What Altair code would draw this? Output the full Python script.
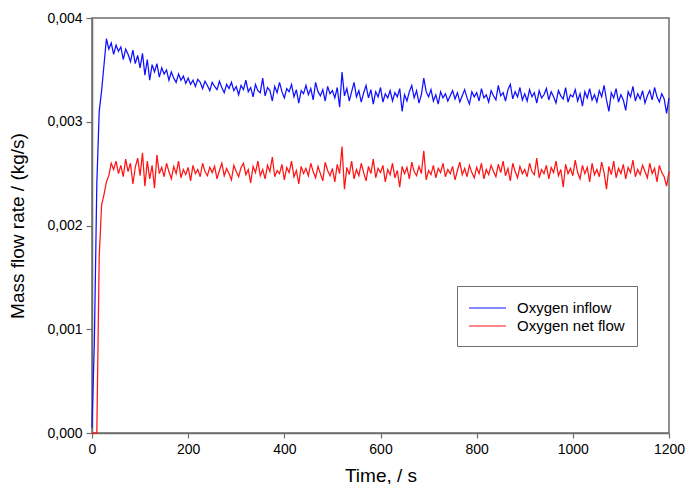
import altair as alt
import pandas as pd

time_s = list(range(0, 1201, 5))

inflow_u = [
    50, 900, 2400, 3100, 3300, 3550, 3800, 3700, 3760, 3650,
    3740, 3680, 3720, 3600, 3700, 3650, 3580, 3690, 3560, 3640,
    3520, 3660, 3450, 3600, 3400, 3550, 3480, 3560, 3430, 3520,
    3460, 3500, 3400, 3480, 3420, 3380, 3460, 3400, 3440, 3370,
    3420, 3360, 3400, 3340, 3410, 3380, 3320, 3390, 3350, 3300,
    3380, 3340, 3310, 3390, 3330, 3280, 3360, 3320, 3380, 3300,
    3340, 3260, 3350, 3310, 3400, 3290, 3330, 3240, 3360, 3300,
    3280, 3420, 3250, 3330, 3300, 3200, 3340, 3280, 3380, 3290,
    3230, 3320, 3290, 3360, 3240, 3310, 3180, 3300, 3270, 3350,
    3260, 3320, 3210, 3380, 3290, 3250, 3310, 3200, 3340, 3270,
    3300, 3230, 3330, 3140, 3480, 3250, 3320, 3200, 3290, 3380,
    3240, 3300, 3190, 3280, 3350, 3230, 3310, 3170, 3290, 3240,
    3330, 3190, 3270, 3230, 3300, 3200, 3280, 3240, 3320, 3100,
    3260, 3200, 3290, 3350, 3230, 3300, 3180, 3260, 3420, 3290,
    3240, 3310, 3200, 3260, 3170, 3290, 3230, 3270, 3200, 3250,
    3300, 3220, 3280, 3190, 3250, 3310, 3230, 3170, 3290, 3240,
    3280, 3200, 3320, 3230, 3260, 3190, 3300, 3250, 3210, 3350,
    3250, 3280, 3200, 3310, 3360, 3220, 3290, 3240, 3330, 3210,
    3270, 3200, 3310, 3240, 3280, 3180, 3300, 3230, 3260, 3320,
    3210, 3290, 3240, 3180, 3300, 3250, 3220, 3330, 3190, 3260,
    3240, 3310, 3200, 3270, 3150, 3290, 3230, 3320, 3210, 3260,
    3190, 3300, 3240, 3350, 3210, 3100, 3280, 3230, 3320, 3190,
    3260, 3210, 3110, 3290, 3240, 3340, 3200, 3270, 3220, 3300,
    3180, 3250, 3300, 3210, 3330, 3240, 3190, 3270, 3220, 3080,
    3230,
]

netflow_u = [
    0, 0, 0, 1700, 2200, 2300, 2420, 2480, 2600, 2540,
    2620, 2500, 2580, 2470, 2640, 2520, 2600, 2400, 2560, 2650,
    2480, 2700, 2380, 2620, 2450, 2580, 2360, 2680, 2500, 2560,
    2470, 2600, 2520, 2450, 2570, 2500, 2620, 2460, 2540, 2490,
    2560, 2430, 2580, 2500, 2540, 2470, 2600, 2520, 2480, 2560,
    2510, 2570, 2450, 2530, 2600, 2480, 2550, 2500, 2440, 2580,
    2520, 2470, 2560, 2600, 2490, 2540, 2410, 2570, 2510, 2620,
    2480, 2540, 2450, 2580, 2520, 2660, 2470, 2530, 2500, 2590,
    2440, 2560, 2510, 2620, 2470, 2530, 2400, 2570, 2500, 2550,
    2480, 2600, 2520, 2460, 2570, 2500, 2430, 2610, 2530, 2480,
    2550, 2420, 2590, 2500, 2760, 2350, 2560, 2490, 2620, 2450,
    2540, 2480, 2600, 2510, 2430, 2570, 2500, 2640, 2460, 2550,
    2510, 2580, 2420, 2540, 2490, 2600, 2460, 2530, 2370, 2570,
    2500, 2560, 2450, 2610, 2520, 2480, 2570, 2500, 2720, 2440,
    2530, 2490, 2580, 2460, 2550, 2510, 2600, 2470, 2540, 2500,
    2570, 2440, 2530, 2610, 2490, 2550, 2470, 2580, 2510, 2460,
    2560, 2500, 2600, 2450, 2540, 2490, 2580, 2520, 2470, 2590,
    2510, 2620, 2480, 2550, 2430, 2600, 2520, 2460, 2570, 2500,
    2540, 2470, 2600, 2520, 2490, 2650, 2460, 2540, 2500, 2580,
    2450, 2560, 2510, 2620, 2480, 2540, 2370, 2590, 2500, 2550,
    2480, 2630, 2510, 2450, 2580, 2500, 2560, 2420, 2600, 2490,
    2540, 2470, 2610, 2510, 2350, 2570, 2490, 2620, 2460, 2550,
    2500, 2590, 2450, 2560, 2510, 2630, 2470, 2540, 2490, 2580,
    2520, 2460, 2600, 2500, 2550, 2420, 2580, 2510, 2470, 2380,
    2520,
]

series_names = ["Oxygen inflow", "Oxygen net flow"]
series_colors = ["#1010ff", "#ff1414"]
x_ticks = [0, 200, 400, 600, 800, 1000, 1200]
y_ticks = [0.0, 0.001, 0.002, 0.003, 0.004]

rows = []
for name, vals in zip(series_names, [inflow_u, netflow_u]):
    for t, v in zip(time_s, vals):
        rows.append({"time": t, "flow": v / 1e6, "series": name, "order": t})
df = pd.DataFrame(rows)

FONT = "Liberation Sans"
AXIS_COL = "#6e6e6e"

chart = (
    alt.Chart(df)
    .mark_line(strokeWidth=1.25)
    .encode(
        x=alt.X(
            "time:Q",
            scale=alt.Scale(domain=[0, 1200], nice=False),
            axis=alt.Axis(
                title="Time, / s",
                values=x_ticks,
                format="d",
                grid=False,
                tickSize=5,
                labelPadding=4,
                labelFlush=False,
                titlePadding=10,
            ),
        ),
        y=alt.Y(
            "flow:Q",
            scale=alt.Scale(domain=[0, 0.004], nice=False),
            axis=alt.Axis(
                title="Mass flow rate / (kg/s)",
                values=y_ticks,
                labelExpr="replace(format(datum.value, '.3f'), '.', ',')",
                grid=False,
                tickSize=6,
                labelPadding=4,
                titlePadding=19,
            ),
        ),
        color=alt.Color(
            "series:N",
            scale=alt.Scale(domain=series_names, range=series_colors),
            legend=alt.Legend(
                title=None,
                orient="none",
                legendX=365,
                legendY=268,
                symbolType="M-1.11,0L3,0",
                symbolSize=324,
                symbolStrokeWidth=1.2,
                labelFontSize=15,
                labelFont=FONT,
                labelColor="#000000",
                labelOffset=28,
                padding=12,
                rowPadding=0,
                fillColor="#ffffff",
                strokeColor="#6e6e6e",
            ),
        ),
        order="order:Q",
    )
    .properties(
        width=577,
        height=415,
        background="#ffffff",
        autosize=alt.AutoSizeParams(type="none"),
        padding={"left": 92, "top": 18, "right": 19, "bottom": 51},
    )
    .configure_view(stroke=AXIS_COL, strokeWidth=1.5)
    .configure_axis(
        domainColor=AXIS_COL,
        domainWidth=1.5,
        tickColor=AXIS_COL,
        tickWidth=1.2,
        labelFont=FONT,
        labelFontSize=14,
        labelColor="#000000",
        titleFont=FONT,
        titleFontSize=19,
        titleFontWeight="normal",
        titleColor="#000000",
    )
)

chart.save("out.html", embed_options={"renderer": "svg", "actions": False})
